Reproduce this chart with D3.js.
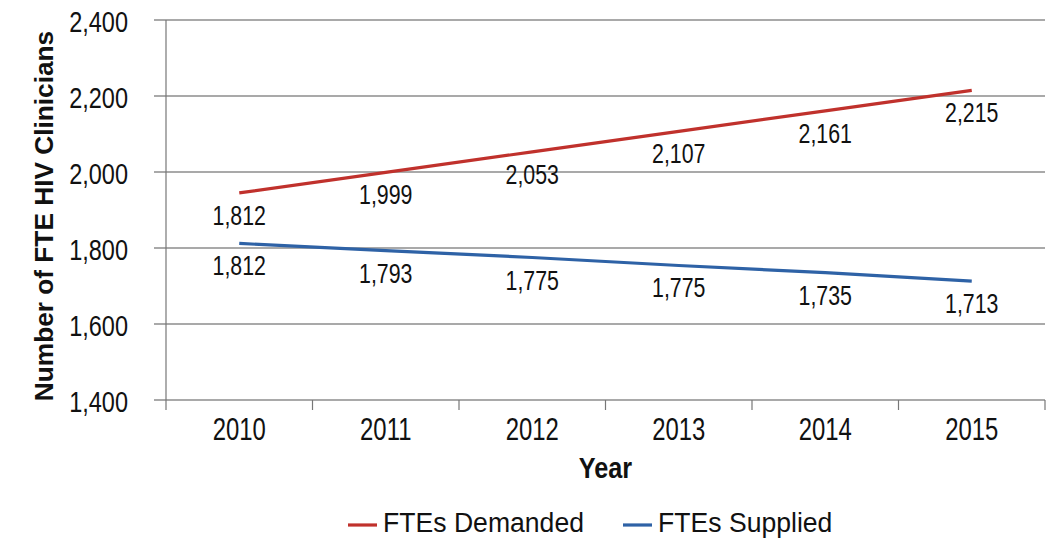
<!DOCTYPE html>
<html>
<head>
<meta charset="utf-8">
<script src="https://cdn.jsdelivr.net/npm/d3@7"></script>
<style>
  body { margin: 0; background: #fff; }
  svg text { font-family: "Liberation Sans", Arial, sans-serif; fill: #111; }
</style>
</head>
<body>
<div id="chart"></div>
<script>
// data
var years = ["2010", "2011", "2012", "2013", "2014", "2015"];
var demanded = [1945, 1999, 2053, 2107, 2161, 2215];
var demandedLabels = ["1,812", "1,999", "2,053", "2,107", "2,161", "2,215"];
var supplied = [1812, 1793, 1775, 1754, 1735, 1713];
var suppliedLabels = ["1,812", "1,793", "1,775", "1,775", "1,735", "1,713"];
var yTicks = [1400, 1600, 1800, 2000, 2200, 2400];

var margin = { top: 20, right: 7, bottom: 139, left: 166 };
var width = 1052 - margin.left - margin.right;
var height = 539 - margin.top - margin.bottom;

var svg = d3.select("#chart").append("svg")
    .attr("width", 1052)
    .attr("height", 539)
  .append("g")
    .attr("transform", "translate(" + margin.left + "," + margin.top + ")");

// the original font is a condensed face, so squeeze Liberation Sans sideways
function label(parent, x, y, str, size, squeeze, anchor, weight, rot) {
  var t = parent.append("text")
    .attr("transform", "translate(" + x + "," + y + ")" + (rot ? " rotate(" + rot + ")" : "") + " scale(" + squeeze + ",1)")
    .style("font-size", size + "px")
    .style("text-anchor", anchor || "middle")
    .text(str);
  if (weight) t.style("font-weight", weight);
  return t;
}

var xScale = d3.scaleBand()
  .domain(years)
  .range([0, width]);

var yScale = d3.scaleLinear()
  .domain([1400, 2400])
  .range([height, 0]);

// horizontal gridlines (they stick out to the left like ticks)
svg.append("g")
  .selectAll("line")
  .data(yTicks)
  .join("line")
    .attr("x1", -12)
    .attr("x2", width)
    .attr("y1", d => yScale(d))
    .attr("y2", d => yScale(d))
    .attr("stroke", "#555")
    .attr("stroke-width", 1.2);

// y axis line
svg.append("line")
  .attr("x1", 0).attr("x2", 0)
  .attr("y1", 0).attr("y2", height + 10)
  .attr("stroke", "#777")
  .attr("stroke-width", 1.2);

// y tick labels
var yLab = svg.append("g");
yTicks.forEach(d => {
  label(yLab, -38, yScale(d) + 12, d3.format(",")(d), 29, 0.81, "end");
});

// x axis ticks between categories
var xTickPos = years.map(d => xScale(d) + xScale.bandwidth());
svg.append("g")
  .selectAll("line")
  .data(xTickPos)
  .join("line")
    .attr("x1", d => d).attr("x2", d => d)
    .attr("y1", height).attr("y2", height + 10)
    .attr("stroke", "#777")
    .attr("stroke-width", 1.2);

// x labels
var xLab = svg.append("g");
years.forEach(d => {
  label(xLab, xScale(d) + xScale.bandwidth() / 2, height + 40, d, 31, 0.77);
});

// axis titles
label(svg, width / 2, height + 78, "Year", 29, 0.87, "middle", "bold");
label(svg, 53 - margin.left, 216 - margin.top, "Number of FTE HIV Clinicians", 25, 1.05, "middle", "bold", -90);

var line = d3.line()
  .x((d, i) => xScale(years[i]) + xScale.bandwidth() / 2)
  .y(d => yScale(d));

var series = [
  { name: "FTEs Demanded", values: demanded, labels: demandedLabels, color: "#c0312c" },
  { name: "FTEs Supplied", values: supplied, labels: suppliedLabels, color: "#2e62a6" }
];

series.forEach(s => {
  svg.append("path")
    .datum(s.values)
    .attr("fill", "none")
    .attr("stroke", s.color)
    .attr("stroke-width", 3.2)
    .attr("d", line);

  var g = svg.append("g");
  s.values.forEach((d, i) => {
    label(g, xScale(years[i]) + xScale.bandwidth() / 2, yScale(d) + 32, s.labels[i], 27, 0.79);
  });
});

// legend
var legendX = [348 - margin.left, 623 - margin.left];
var legend = svg.append("g")
  .attr("transform", "translate(0," + (525 - margin.top) + ")");

series.forEach((s, i) => {
  legend.append("line")
    .attr("x1", legendX[i]).attr("x2", legendX[i] + 29)
    .attr("y1", 0).attr("y2", 0)
    .attr("stroke", s.color)
    .attr("stroke-width", 3.2);
  label(legend, legendX[i] + 35, 7, s.name, 28, 0.95, "start");
});
</script>
</body>
</html>
